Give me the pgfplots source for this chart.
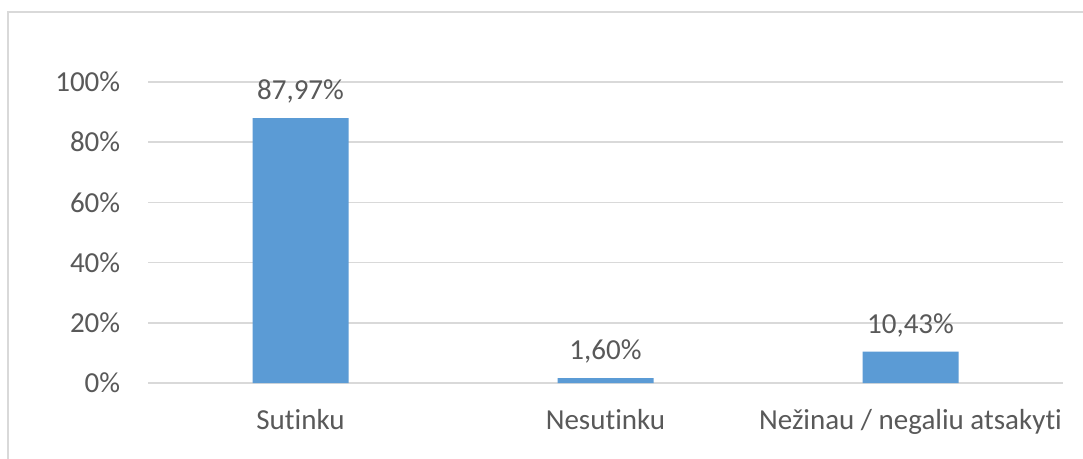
\documentclass[border=0pt]{standalone}
\usepackage{pgfplots}
\pgfplotsset{compat=1.18}
\usepackage{fontspec}
\setmainfont{Carlito}[Ligatures=CommonOff]
\definecolor{barblue}{HTML}{5B9BD5}
\definecolor{gridgray}{HTML}{D9D9D9}
\definecolor{txtgray}{HTML}{595959}
\begin{document}
\fontsize{29pt}{34pt}\selectfont
\begin{tikzpicture}
\path[use as bounding box] (0pt,0pt) rectangle (1083pt,458pt);
\fill[white] (0pt,0pt) rectangle (1083pt,458pt);
\draw[color=gridgray, line width=1.5pt] (8pt,-5pt) -- (8pt,446pt) -- (1090pt,446pt);
\begin{axis}[
  at={(148pt,75pt)}, anchor=south west,
  scale only axis, width=915pt, height=301pt,
  ybar, bar width=96pt,
  xmin=-0.5, xmax=2.5, ymin=0, ymax=100,
  xtick=data,
  xticklabels={Sutinku, Nesutinku, Nežinau / negaliu atsakyti},
  ytick={0,20,40,60,80,100},
  yticklabel={\pgfmathprintnumber{\tick}\%},
  /pgf/number format/assume math mode=true,
  axis line style={draw=none},
  axis x line*=bottom,
  x axis line style={draw=gridgray, line width=1.5pt},
  tick style={draw=none},
  ymajorgrids, grid style={draw=gridgray, line width=1.5pt},
  ticklabel style={font=\fontsize{29pt}{34pt}\selectfont, text=txtgray},
  yticklabel style={xshift=-18pt},
  xticklabel style={yshift=-12pt},
  nodes near coords={\pgfmathprintnumber[fixed,fixed zerofill,precision=2,use comma,assume math mode=true]{\pgfplotspointmeta}\%},
  nodes near coords style={font=\fontsize{29pt}{34pt}\selectfont, text=txtgray, yshift=5pt},
  clip=false,
]
\addplot[fill=barblue, draw=none] coordinates {(0,87.97) (1,1.60) (2,10.43)};
\end{axis}
\end{tikzpicture}
\end{document}
